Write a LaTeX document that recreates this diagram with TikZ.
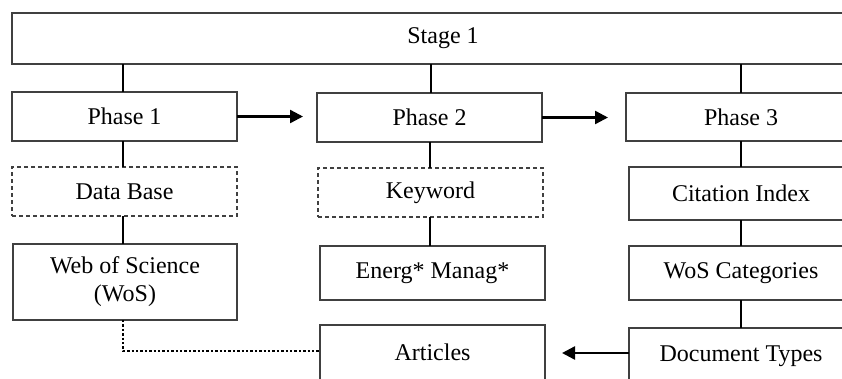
\documentclass[tikz,border=0pt]{standalone}
\usepackage{fontspec}
\setmainfont{Liberation Serif}
\usetikzlibrary{arrows.meta}
\definecolor{bordercol}{HTML}{404040}
\begin{document}
\begin{tikzpicture}[x=1pt,y=-1pt,
  box/.style={draw=bordercol, line width=1.2pt, inner sep=0pt, outer sep=0pt,
    align=center, font=\fontsize{24}{28}\selectfont},
  dbox/.style={box, dash pattern=on 4pt off 3pt},
  conn/.style={line width=2.4pt, black},
  arr/.style={conn, -{Triangle[length=13pt,width=13pt]}},
  dotconn/.style={line width=2.7pt, black, dash pattern=on 2.4pt off 2pt}]
\useasboundingbox (0,0) rectangle (842,378);
\clip (0,0) rectangle (842,378);
\fill[white] (0,0) rectangle (842,378);
% boxes
\node[box, minimum width=862pt, minimum height=51pt] (stage) at (443,38.5) {Stage 1};
\node[box, minimum width=225pt, minimum height=49pt] (p1) at (124.5,116.5) {Phase 1};
\node[box, minimum width=225pt, minimum height=49pt] (p2) at (429.5,117.5) {Phase 2};
\node[box, minimum width=230pt, minimum height=48pt] (p3) at (741,117) {Phase 3};
\node[dbox, minimum width=225pt, minimum height=49pt] (db) at (124.5,191.5) {Data Base};
\node[dbox, minimum width=225pt, minimum height=49pt] (kw) at (430.5,192.5) {Keyword};
\node[box, minimum width=224pt, minimum height=53pt] (ci) at (741,193.5) {Citation Index};
\node[box, minimum width=224pt, minimum height=76pt] (wos) at (125,282) {Web of Science\\(WoS)};
\node[box, minimum width=225pt, minimum height=54pt] (en) at (432.5,273) {Energ* Manag*};
\node[box, minimum width=224pt, minimum height=54pt] (wc) at (741,273) {WoS Categories};
\node[box, minimum width=225pt, minimum height=60pt] (ar) at (432.5,355) {\raisebox{5pt}{Articles}};
\node[box, minimum width=224pt, minimum height=60pt] (dt) at (741,358) {\raisebox{8pt}{Document Types}};
% connectors from stage
\draw[conn] (stage.south -| 123,0) -- (p1.north -| 123,0);
\draw[conn] (stage.south -| 431,0) -- (p2.north -| 431,0);
\draw[conn] (stage.south -| p3.north) -- (p3.north);
% column 1
\draw[conn] (p1.south -| 123,0) -- (db.north -| 123,0);
\draw[conn] (db.south -| 123,0) -- (wos.north -| 123,0);
% column 2
\draw[conn] (p2.south -| 430,0) -- (kw.north -| 430,0);
\draw[conn] (kw.south -| 430,0) -- (en.north -| 430,0);
% column 3
\draw[conn] (p3.south) -- (ci.north);
\draw[conn] (ci.south) -- (wc.north);
\draw[conn] (wc.south) -- (dt.north);
% arrows
\coordinate (a1) at (303,116.5);
\coordinate (a2) at (608,117.5);
\coordinate (a3) at (562,353);
\draw[arr] (p1.east) -- (a1);
\draw[arr] (p2.east |- 0,117.5) -- (a2);
\draw[arr] (dt.west |- 0,353) -- (a3);
% dotted link
\coordinate (dcorner) at (123,351);
\draw[dotconn] (wos.south -| dcorner) -- (dcorner) -- (ar.west |- dcorner);
\end{tikzpicture}
\end{document}
